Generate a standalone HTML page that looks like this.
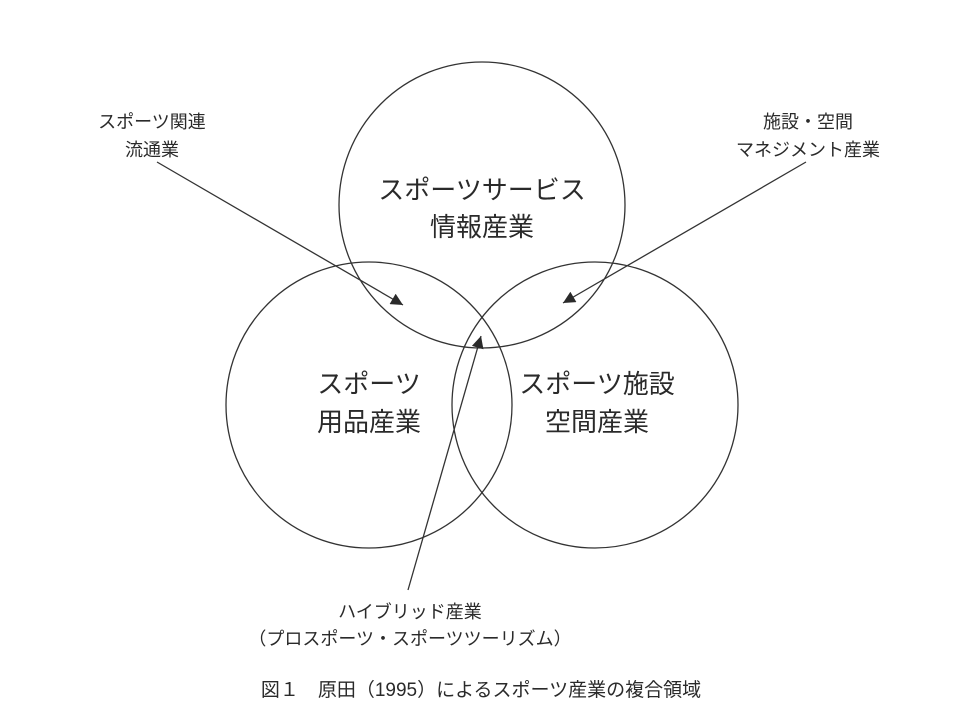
<!DOCTYPE html>
<html><head><meta charset="utf-8"><style>
html,body{margin:0;padding:0;background:#fff;}
svg{display:block;}
text{font-family:"Liberation Sans","Noto Sans CJK JP",sans-serif;fill:#2a2a2a;text-anchor:middle;}
</style></head><body>
<svg width="960" height="720" viewBox="0 0 960 720" xmlns="http://www.w3.org/2000/svg">
<defs><marker id="a" viewBox="0 0 10 10" refX="10" refY="5" markerWidth="16" markerHeight="12" markerUnits="userSpaceOnUse" orient="auto"><path d="M0,0 L10,5 L0,10 z" fill="#2a2a2a"/></marker></defs>
<g fill="none" stroke="#333" stroke-width="1.3">
<circle cx="482" cy="205" r="143"/>
<circle cx="369" cy="405" r="143"/>
<circle cx="595" cy="405" r="143"/>
<line x1="157" y1="162" x2="403" y2="305" marker-end="url(#a)"/>
<line x1="806" y1="162" x2="563" y2="303" marker-end="url(#a)"/>
<line x1="408" y1="590" x2="481" y2="336" marker-end="url(#a)"/>
</g>
<text x="482" y="199" font-size="26">スポーツサービス</text>
<text x="482" y="236" font-size="26">情報産業</text>
<text x="369" y="393" font-size="26">スポーツ</text>
<text x="369" y="431" font-size="26">用品産業</text>
<text x="597" y="393" font-size="26">スポーツ施設</text>
<text x="597" y="431" font-size="26">空間産業</text>
<text x="152" y="128" font-size="18">スポーツ関連</text>
<text x="152" y="156" font-size="18">流通業</text>
<text x="808" y="128" font-size="18">施設・空間</text>
<text x="808" y="156" font-size="18">マネジメント産業</text>
<text x="410" y="618" font-size="18">ハイブリッド産業</text>
<text x="410" y="645" font-size="18">（プロスポーツ・スポーツツーリズム）</text>
<text x="481" y="696" font-size="19">図１　原田（1995）によるスポーツ産業の複合領域</text>
</svg>
</body></html>
